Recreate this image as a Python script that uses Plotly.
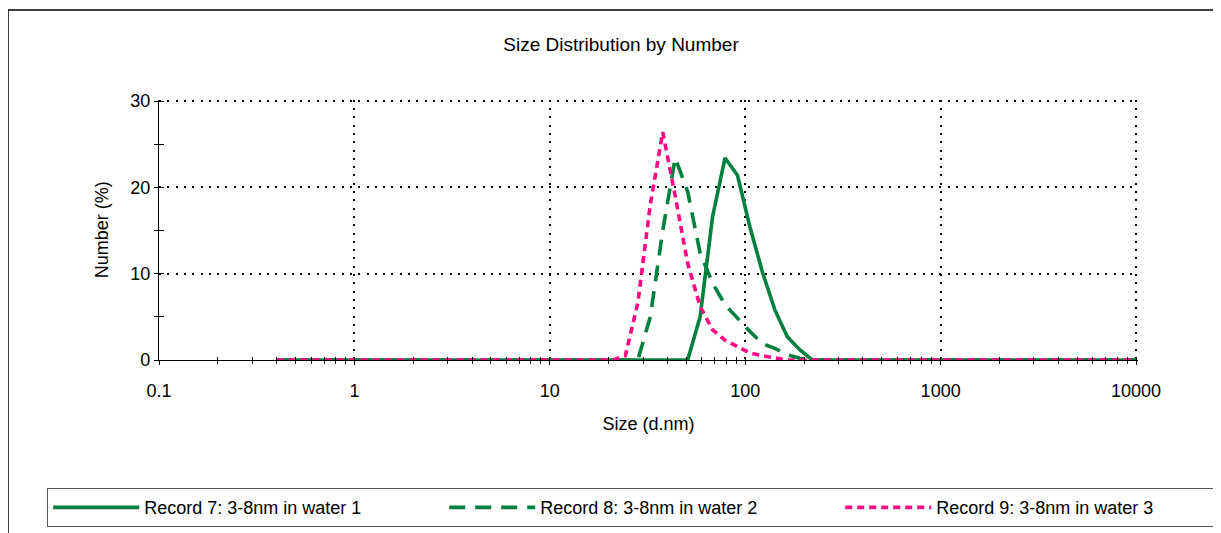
import plotly.graph_objects as go

# Malvern size classes (d.nm)
sizes = [0.4, 0.4632, 0.5365, 0.6213, 0.7195, 0.8332, 0.9649, 1.117, 1.294, 1.499,
         1.736, 2.010, 2.328, 2.696, 3.122, 3.615, 4.187, 4.849, 5.615, 6.503,
         7.531, 8.721, 10.10, 11.70, 13.54, 15.69, 18.17, 21.04, 24.36, 28.21,
         32.67, 37.84, 43.82, 50.75, 58.77, 68.06, 78.82, 91.28, 105.7, 122.4,
         141.8, 164.2, 190.1, 220.2, 255.0, 295.3, 342.0, 396.1, 458.7, 531.2,
         615.1, 712.4, 825.0, 955.4, 1106, 1281, 1484, 1718, 1990, 2305,
         2669, 3091, 3580, 4145, 4801, 5560, 6439, 7456, 8635, 10000]

# Number (%) around the peaks; zero elsewhere
rec7_peak = [0, 0, 0, 0, 0, 5.0, 16.6, 23.4, 21.4, 15.4, 10.2, 5.8, 2.7, 1.2, 0]
rec8_peak = [0, 0, 5.0, 15.0, 23.4, 19.5, 12.4, 8.9, 6.4, 4.8, 3.3, 1.9, 1.35, 0.6, 0.2, 0]
rec9_peak = [0.5, 6.6, 18.0, 26.4, 19.0, 11.2, 6.2, 3.5, 2.3, 1.5, 0.8, 0.5, 0.2, 0]

rec7 = [0.0] * 29 + rec7_peak
rec7 += [0.0] * (len(sizes) - len(rec7))
rec8 = [0.0] * 28 + rec8_peak
rec8 += [0.0] * (len(sizes) - len(rec8))
rec9 = [0.0] * 28 + rec9_peak
rec9 += [0.0] * (len(sizes) - len(rec9))

names = ["Record 7: 3-8nm in water 1", "Record 8: 3-8nm in water 2", "Record 9: 3-8nm in water 3"]
x_tickvals = [0.1, 1, 10, 100, 1000, 10000]
x_ticktext = ["0.1", "1", "10", "100", "1000", "10000"]
y_tickvals = [0, 10, 20, 30]

GREEN = "#00803E"
PINK = "#FF0A84"
FONT = "Liberation Sans, Arial, sans-serif"
FS = 18

fig = go.Figure()
fig.add_trace(go.Scatter(x=sizes, y=rec7, mode="lines", name=names[0],
                         line=dict(color=GREEN, width=3.6, dash="solid")))
fig.add_trace(go.Scatter(x=sizes, y=rec8, mode="lines", name=names[1],
                         line=dict(color=GREEN, width=3.6, dash="16px,10px")))
fig.add_trace(go.Scatter(x=sizes, y=rec9, mode="lines", name=names[2],
                         line=dict(color=PINK, width=3.6, dash="7px,5px")))
# empty trace to activate the overlay axes (crossing ticks)
fig.add_trace(go.Scatter(x=[], y=[], xaxis="x2", yaxis="y2", showlegend=False, hoverinfo="skip"))

OFF = 8  # page body margin
W, H = 1221 - OFF, 533 - OFF
ML, MR, MT, MB = 12, 4, 2, 2
PW, PH = W - ML - MR, H - MT - MB

def px_x(p):
    return (p - OFF - ML) / PW

def px_y(p):
    return (H - MB - (p - OFF)) / PH

XR = [-1, 4.01]
YR = [0, 30.15]
x_dom = [px_x(159), px_x(1138)]
y_dom = [px_y(360), px_y(99.7)]

grid = dict(showgrid=True, gridcolor="black", gridwidth=1.6, griddash="2px,6.3px")

fig.update_layout(
    width=W, height=H,
    margin=dict(l=ML, r=MR, t=MT, b=MB, autoexpand=False),
    paper_bgcolor="white", plot_bgcolor="white",
    font=dict(family=FONT, size=FS, color="black"),
    title=dict(text="Size Distribution by Number", x=(621 - OFF) / W, xref="container", xanchor="center",
               y=(H - (44 - OFF)) / H, yref="container", yanchor="middle",
               font=dict(family=FONT, size=19, color="black")),
    xaxis=dict(type="log", range=XR, domain=x_dom, tickvals=x_tickvals, ticktext=x_ticktext,
               ticks="outside", ticklen=4, tickcolor="black", ticklabelstandoff=10,
               showline=True, linecolor="black", linewidth=1.2, zeroline=False, automargin=False,
               minor=dict(ticks="outside", ticklen=3, tickcolor="black", dtick="D1", showgrid=False),
               title=dict(text="Size (d.nm)", standoff=17, font=dict(size=FS)),
               **grid),
    yaxis=dict(range=YR, domain=y_dom, tickvals=y_tickvals, ticks="outside", ticklen=4, tickcolor="black",
               showline=True, linecolor="black", linewidth=1.2, zeroline=False, automargin=False,
               minor=dict(ticks="outside", ticklen=4, tickcolor="black", dtick=5, showgrid=False),
               title=dict(text="Number (%)", standoff=16, font=dict(size=FS)),
               **grid),
    xaxis2=dict(type="log", range=XR, overlaying="x", anchor="y", side="bottom",
                tickvals=x_tickvals, ticks="inside", ticklen=3, tickcolor="black",
                showticklabels=False, showgrid=False, zeroline=False, showline=False,
                minor=dict(ticks="inside", ticklen=3, tickcolor="black", dtick="D1", showgrid=False)),
    yaxis2=dict(range=YR, overlaying="y", anchor="x", side="left",
                tickvals=y_tickvals, ticks="inside", ticklen=5, tickcolor="black",
                showticklabels=False, showgrid=False, zeroline=False, showline=False,
                minor=dict(ticks="inside", ticklen=5, tickcolor="black", dtick=5, showgrid=False)),
    showlegend=True,
    legend=dict(orientation="h", x=px_x(47), xanchor="left", y=px_y(488), yanchor="top",
                bordercolor="#555555", borderwidth=1.2, bgcolor="white",
                entrywidth=295, entrywidthmode="pixels", itemwidth=86,
                font=dict(family=FONT, size=FS, color="black"), tracegroupgap=0),
    shapes=[dict(type="rect", xref="paper", yref="paper",
                 x0=px_x(8), x1=px_x(1240), y0=px_y(560), y1=px_y(10),
                 line=dict(color="black", width=1.5), fillcolor="rgba(0,0,0,0)", layer="below")],
)

fig.write_html("out.html")
